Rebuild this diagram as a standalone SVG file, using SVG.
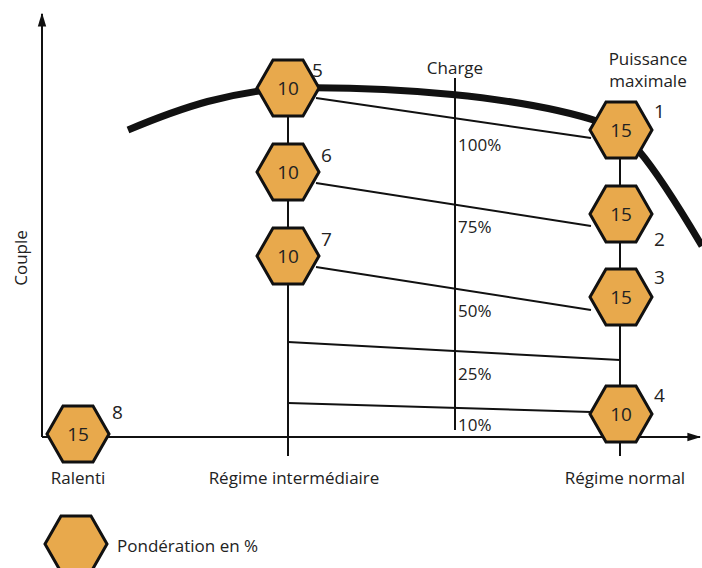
<svg xmlns="http://www.w3.org/2000/svg" width="702" height="568" viewBox="0 0 702 568">
<defs>
<style>
.hex{fill:#E8A94C;stroke:#111;stroke-width:3;stroke-linejoin:miter}
.t{font-family:"Open Sans","Noto Sans","Liberation Sans",sans-serif;fill:#222;font-size:17px}
.d{font-family:"Open Sans","Noto Sans","Liberation Sans",sans-serif;fill:#222;font-size:19px}
.n{font-family:"Open Sans","Noto Sans","Liberation Sans",sans-serif;fill:#222;font-size:19px;text-anchor:middle}
.ln{stroke:#111;stroke-width:2;fill:none}
</style>
<polygon id="hx" points="-31,0 -15,-28 15,-28 31,0 15,28 -15,28"/>
<marker id="ar" viewBox="0 0 10 10" refX="9" refY="5" markerWidth="7" markerHeight="7" orient="auto"><path d="M0,2 L10,5 L0,8 Z" fill="#111"/></marker>
</defs>
<rect width="702" height="568" fill="#fff"/>
<g id="axes">
<line class="ln" x1="42" y1="437" x2="42" y2="14" marker-end="url(#ar)"/>
<line class="ln" x1="42" y1="437" x2="700" y2="437" marker-end="url(#ar)"/>
<text class="t" transform="translate(27,258) rotate(-90)" text-anchor="middle">Couple</text>
</g>
<path id="curve" d="M128,130 C185,106 230,92 288,88 C390,86 520,96 600,122 C625,130 645,150 702,246" fill="none" stroke="#111" stroke-width="7"/>
<g id="connectors">
<line class="ln" x1="288" y1="116" x2="288" y2="456"/>
<line class="ln" x1="620" y1="158" x2="620" y2="456"/>
<line class="ln" x1="455" y1="78" x2="455" y2="430"/>
<line class="ln" x1="316" y1="98" x2="591" y2="138"/>
<line class="ln" x1="316" y1="183" x2="591" y2="226"/>
<line class="ln" x1="316" y1="267" x2="591" y2="310"/>
<line class="ln" x1="288" y1="342" x2="620" y2="360"/>
<line class="ln" x1="288" y1="403" x2="591" y2="412"/>
</g>
<g id="n5"><use href="#hx" class="hex" x="288" y="88"/><text class="n" x="288" y="95">10</text><text class="d" x="312" y="77">5</text></g>
<g id="n6"><use href="#hx" class="hex" x="288" y="172"/><text class="n" x="288" y="179">10</text><text class="d" x="321" y="162">6</text></g>
<g id="n7"><use href="#hx" class="hex" x="288" y="256"/><text class="n" x="288" y="263">10</text><text class="d" x="321" y="246">7</text></g>
<g id="n1"><use href="#hx" class="hex" x="621" y="130"/><text class="n" x="621" y="137">15</text><text class="d" x="654" y="118">1</text></g>
<g id="n2"><use href="#hx" class="hex" x="621" y="214"/><text class="n" x="621" y="221">15</text><text class="d" x="654" y="246">2</text></g>
<g id="n3"><use href="#hx" class="hex" x="621" y="297"/><text class="n" x="621" y="304">15</text><text class="d" x="654" y="284">3</text></g>
<g id="n4"><use href="#hx" class="hex" x="621" y="414"/><text class="n" x="621" y="421">10</text><text class="d" x="654" y="402">4</text></g>
<g id="n8"><use href="#hx" class="hex" x="78" y="434"/><text class="n" x="78" y="441">15</text><text class="d" x="112" y="419">8</text></g>
<g id="labels">
<text class="t" x="455" y="74" text-anchor="middle">Charge</text>
<text class="t" x="648" y="65" text-anchor="middle">Puissance</text>
<text class="t" x="648" y="87" text-anchor="middle">maximale</text>
<text class="t" x="458" y="151">100%</text>
<text class="t" x="458" y="233">75%</text>
<text class="t" x="458" y="317">50%</text>
<text class="t" x="458" y="380">25%</text>
<text class="t" x="458" y="431">10%</text>
<text class="t" x="78" y="484" text-anchor="middle">Ralenti</text>
<text class="t" x="294" y="484" text-anchor="middle">Régime intermédiaire</text>
<text class="t" x="625" y="484" text-anchor="middle">Régime normal</text>
</g>
<g id="legend"><use href="#hx" class="hex" x="76" y="544"/><text class="t" x="117" y="552">Pondération en %</text></g>
</svg>
